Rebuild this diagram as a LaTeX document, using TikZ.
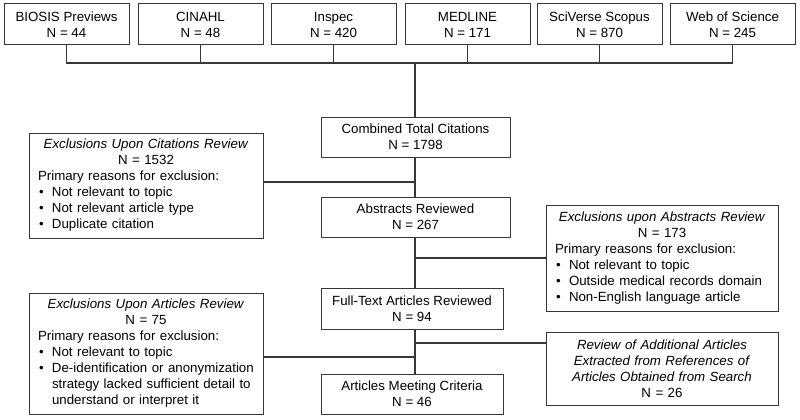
\documentclass[tikz,border=0pt]{standalone}
\usepackage{fontspec}
\setmainfont{Liberation Sans}
\definecolor{lineGray}{RGB}{55,55,55}
\newcommand{\bitem}[1]{\par\noindent\hangindent=14pt\hangafter=1\makebox[14pt][l]{\hspace{1pt}•}#1}

\begin{document}
\begin{tikzpicture}[x=1pt, y=-1pt, line width=1pt,
    db node/.style={draw=lineGray, line width=1pt, minimum width=125pt, minimum height=41pt, inner sep=0pt, align=center, font=\fontsize{13.3}{16}\selectfont},
    step node/.style={db node, minimum width=189pt, minimum height=40pt},
    excl node/.style={draw=lineGray, line width=1pt, inner xsep=9pt, inner ysep=0pt, font=\fontsize{13.3}{16}\selectfont},
    link/.style={draw=lineGray, line width=1.1pt}]

            \useasboundingbox (0,0) rectangle (800,420);

            % databases
            \node[db node] at (66.5, 24.5) (bios) {BIOSIS Previews\\N = 44};
            \node[db node] at (200.5, 24.5) (cin) {CINAHL\\N = 48};
            \node[db node] at (333.5, 24.5) (insp) {Inspec\\N = 420};
            \node[db node] at (467.5, 24.5) (med) {MEDLINE\\N = 171};
            \node[db node] at (599.5, 24.5) (sco) {SciVerse Scopus\\N = 870};
            \node[db node] at (732.5, 24.5) (wos) {Web of Science\\N = 245};

            % main steps
            \node[step node] at (415.5, 137) (comb) {Combined Total Citations\\N = 1798};
            \node[step node] at (415.5, 217) (abs) {Abstracts Reviewed\\N = 267};
            \node[step node, minimum width=182pt, minimum height=41pt] at (412, 308.5) (full) {Full-Text Articles Reviewed\\N = 94};
            \node[step node, minimum width=182pt] at (412, 394) (meet) {Articles Meeting Criteria\\N = 46};

            % exclusions
            \node[excl node, text width=216pt, minimum height=105pt] at (146, 185.5) (citeX) {\centering\textit{Exclusions Upon Citations Review}\\N = 1532\par
                \raggedright Primary reasons for exclusion:
                \bitem{Not relevant to topic}
                \bitem{Not relevant article type}
                \bitem{Duplicate citation}\par};
            \node[excl node, text width=214pt, minimum height=106pt] at (662, 258) (absX) {\centering\textit{Exclusions upon Abstracts Review}\\N = 173\par
                \raggedright Primary reasons for exclusion:
                \bitem{Not relevant to topic}
                \bitem{Outside medical records domain}
                \bitem{Non-English language article}\par};
            \node[excl node, text width=216pt, minimum height=121pt] at (146, 353.5) (artX) {\centering\textit{Exclusions Upon Articles Review}\\N = 75\par
                \raggedright Primary reasons for exclusion:
                \bitem{Not relevant to topic}
                \bitem{De-identification or anonymization\newline strategy lacked sufficient detail to\newline understand or interpret it}\par};
            \node[excl node, text width=214pt, minimum height=73pt] at (662, 368.5) (addX) {\centering\textit{Review of Additional Articles}\\\textit{Extracted from References of}\\\textit{Articles Obtained from Search}\\N = 26\par};

            % joins
            \coordinate (bus) at (415, 63);
            \coordinate (j1) at (415, 182);
            \coordinate (j2) at (415, 258);
            \coordinate (j3) at (415, 343);
            \coordinate (j4) at (415, 357);

            \path[link] (bios.south) |- (wos.south |- bus) -- (wos.south);
            \path[link] (cin.south) -- (cin.south |- bus);
            \path[link] (insp.south) -- (insp.south |- bus);
            \path[link] (med.south) -- (med.south |- bus);
            \path[link] (sco.south) -- (sco.south |- bus);
            \path[link] (bus) -- (bus |- comb.north);
            \path[link] (bus |- comb.south) -- (bus |- abs.north);
            \path[link] (bus |- abs.south) -- (bus |- full.north);
            \path[link] (bus |- full.south) -- (bus |- meet.north);
            \path[link] (citeX.east |- j1) -- (j1);
            \path[link] (j2) -- (absX.west |- j2);
            \path[link] (j3) -- (addX.west |- j3);
            \path[link] (artX.east |- j4) -- (j4);
        \end{tikzpicture}
\end{document}
